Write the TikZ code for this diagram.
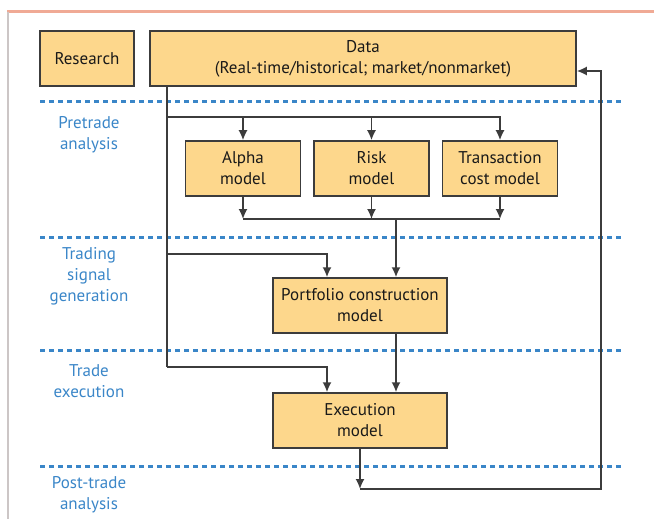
\documentclass[tikz,border=0pt]{standalone}
\usepackage{fontspec}
\setmainfont{PT Sans}
\usepackage{tikz}
\usetikzlibrary{positioning,arrows.meta}

\definecolor{boxfill}{HTML}{FDD78C}
\definecolor{boxline}{HTML}{3C3C3C}
\definecolor{stageblue}{HTML}{3A86C8}
\definecolor{framered}{HTML}{F0AA95}
\definecolor{framegray}{HTML}{CCC6C6}

\tikzset{
	model/.style = {draw=boxline, fill=boxfill, line width=1.5pt, text=black!90,
		minimum height=55pt, inner sep=0pt, align=center,
		font=\fontsize{17}{21}\selectfont},
	stage/.style = {text=stageblue, align=center, font=\fontsize{17}{21}\selectfont},
	sep/.style = {stageblue, line width=3pt, dash pattern=on 4.5pt off 4.5pt},
	wire/.style = {boxline, line width=1.7pt},
	flow/.style = {wire, -{Latex[length=10pt,width=9pt]}}
}

\begin{document}
\begin{tikzpicture}[x=1pt, y=-1pt, node distance=12pt]
	\useasboundingbox (0,0) rectangle (654,519);
	
	\draw[framered, line width=3pt] (7,12) -- (654,12);
	\draw[framegray, line width=2.5pt] (8,12) -- (8,519);
	\foreach \y in {102,237,350,466}
		\draw[sep] (40,\y) -- (623,\y);
	
	\node[model, minimum width=94pt](research) at (87,58.5){Research};
	\node[model, minimum width=426pt](data) at (363,58.5){Data\\(Real-time/historical; market/nonmarket)};
	\node[model, minimum width=115pt](alpha) at (243,168.5){Alpha\\model};
	\node[model, minimum width=115pt, right = of alpha](risk){Risk\\model};
	\node[model, minimum width=115pt, right = of risk](tc){Transaction\\cost model};
	\node[model, minimum width=174pt](portfolio) at (360,305.5){Portfolio construction\\model};
	\node[model, minimum width=174pt](execution) at (360,420.5){Execution\\model};
	
	\node[stage](pretrade) at (89,135){Pretrade\\analysis};
	\node[stage](signal) at (89,276.5){Trading\\signal\\generation};
	\node[stage](trade) at (89,381){Trade\\execution};
	\node[stage](posttrade) at (89,494.5){Post-trade\\analysis};
	
	\coordinate (fork) at (167,117);
	\coordinate (trunk) at (167,367);
	\coordinate (merge) at (396,219);
	\coordinate (tap) at (327,254);
	\coordinate (back) at (601,489);
	
	\draw[wire] (data.south -| trunk) -- (trunk);
	\draw[flow] (fork) -| (tc.north);
	\draw[flow] (fork -| alpha.north) -- (alpha.north);
	\draw[flow] (fork -| risk.north) -- (risk.north);
	
	\draw[flow] (alpha.south) -- (alpha.south |- merge);
	\draw[flow] (risk.south) -- (risk.south |- merge);
	\draw[flow] (tc.south) -- (tc.south |- merge);
	\draw[wire] (alpha.south |- merge) -- (tc.south |- merge);
	\draw[flow] (merge) -- (merge |- portfolio.north);
	\draw[flow] (fork |- tap) -| (tap |- portfolio.north);
	
	\draw[flow] (merge |- portfolio.south) -- (merge |- execution.north);
	\draw[flow] (trunk) -| (tap |- execution.north);
	
	\draw[flow] (execution.south) -- (execution.south |- back);
	\draw[flow] (execution.south |- back) -- (back) |- ([yshift=-12.5pt]data.east);
\end{tikzpicture}
\end{document}
